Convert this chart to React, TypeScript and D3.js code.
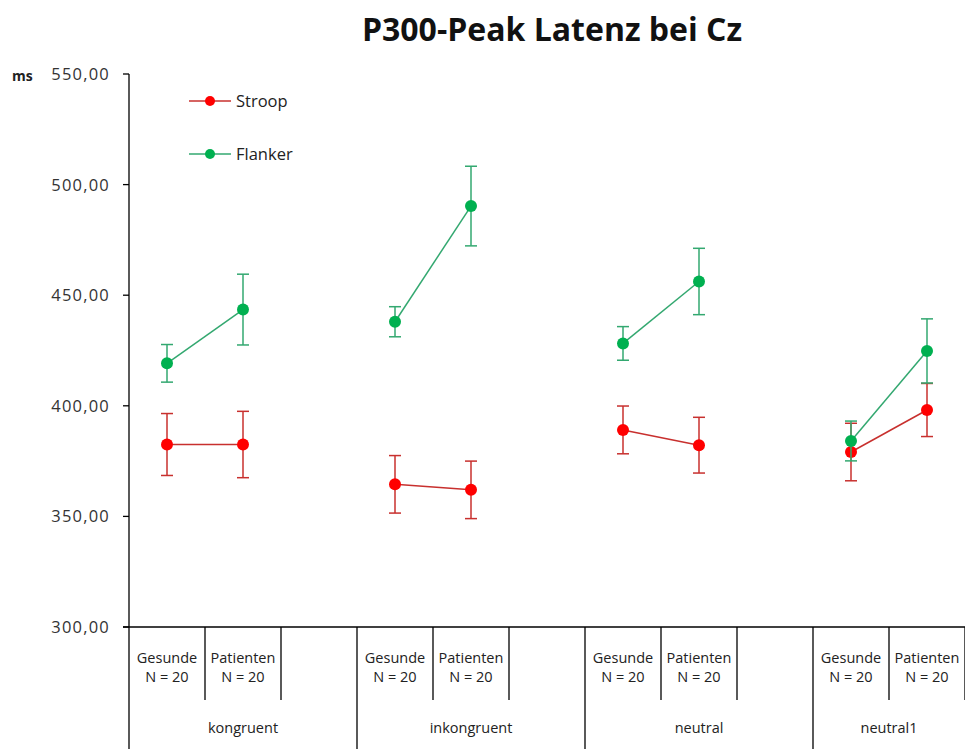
import React from "react";
import * as d3 from "d3";

const groups = ["kongruent", "inkongruent", "neutral", "neutral1"];
const subjects = ["Gesunde", "Patienten"];
const sampleLabel = "N = 20";

// Mean latency (ms) per group × subject, and error bar half-widths
const stroopMean = [382.5, 382.5, 364.5, 362.0, 389.1, 382.2, 379.1, 398.1];
const stroopErr = [14, 15, 13, 13, 10.8, 12.6, 13, 12];
const flankerMean = [419.2, 443.5, 438.0, 490.3, 428.2, 456.2, 384.1, 424.8];
const flankerErr = [8.5, 16, 6.8, 18, 7.6, 15, 9, 14.5];

const yTicks = [300, 350, 400, 450, 500, 550];

const W = 965;
const H = 749;
const axisX = 129;
const slotW = 76;
const y0 = 627;
const y1 = 74;

const series = [
  { name: "Stroop", mean: stroopMean, err: stroopErr, marker: "#ff0000", line: "#c8302e", legendY: 101 },
  { name: "Flanker", mean: flankerMean, err: flankerErr, marker: "#00b050", line: "#33a870", legendY: 154 },
];

export default function App() {
  const y = d3.scaleLinear().domain([300, 550]).range([y0, y1]);
  // 3 slots per group: two subject slots and one empty spacer slot
  const slots = d3.range(groups.length * 3);
  const x = d3.scaleBand<number>().domain(slots).range([axisX, axisX + slots.length * slotW]);
  const pointX = (i: number) => {
    const g = Math.floor(i / 2);
    const s = i % 2;
    return (x(g * 3 + s) as number) + x.bandwidth() / 2;
  };
  const fmt = (v: number) => d3.format(".2f")(v).replace(".", ",");
  const font = "'Open Sans', 'Liberation Sans', sans-serif";

  return (
    <svg width={W} height={H} style={{ position: "absolute", left: 0, top: 0, background: "#fff" }} fontFamily={font}>
      <text x={552} y={41} textAnchor="middle" fontSize={32} fontWeight="bold" fill="#111">
        P300-Peak Latenz bei Cz
      </text>
      <text x={12} y={81} fontSize={14} fontWeight="bold" fill="#222">ms</text>

      {/* y axis */}
      <line x1={axisX} x2={axisX} y1={y1} y2={y0} stroke="#000" strokeWidth={1.3} />
      {yTicks.map((t) => (
        <g key={t}>
          <line x1={axisX - 6} x2={axisX} y1={y(t)} y2={y(t)} stroke="#000" strokeWidth={1.3} />
          <text x={110} y={y(t) + 6} textAnchor="end" fontSize={16.5} letterSpacing={1.2} fill="#333">
            {fmt(t)}
          </text>
        </g>
      ))}

      {/* category table */}
      <line x1={axisX - 6} x2={W} y1={y0} y2={y0} stroke="#000" strokeWidth={1.3} />
      {slots.map((s) => {
        const left = x(s) as number;
        const isGroupStart = s % 3 === 0;
        return (
          <line key={s} x1={left} x2={left} y1={y0} y2={isGroupStart ? H : 700} stroke="#000" strokeWidth={1.3} />
        );
      })}
      {groups.map((g, gi) =>
        subjects.map((sub, si) => {
          const cx = (x(gi * 3 + si) as number) + x.bandwidth() / 2;
          return (
            <g key={g + sub} fontSize={14.5} fill="#222" textAnchor="middle">
              <text x={cx} y={663}>{sub}</text>
              <text x={cx} y={682}>{sampleLabel}</text>
            </g>
          );
        })
      )}
      {groups.map((g, gi) => {
        const left = x(gi * 3) as number;
        const right = Math.min(left + x.bandwidth() * 3, W);
        return (
          <text key={g} x={(left + right) / 2} y={733} fontSize={14.5} fill="#222" textAnchor="middle">
            {g}
          </text>
        );
      })}

      {/* series */}
      {series.map((s) => (
        <g key={s.name}>
          {groups.map((g, gi) => {
            const a = gi * 2;
            const b = a + 1;
            return (
              <line key={g} x1={pointX(a)} x2={pointX(b)} y1={y(s.mean[a])} y2={y(s.mean[b])} stroke={s.line} strokeWidth={1.5} />
            );
          })}
          {s.mean.map((m, i) => {
            const cx = pointX(i);
            const top = y(m + s.err[i]);
            const bot = y(m - s.err[i]);
            return (
              <g key={i}>
                <line x1={cx} x2={cx} y1={top} y2={bot} stroke={s.line} strokeWidth={1.5} />
                <line x1={cx - 6} x2={cx + 6} y1={top} y2={top} stroke={s.line} strokeWidth={1.5} />
                <line x1={cx - 6} x2={cx + 6} y1={bot} y2={bot} stroke={s.line} strokeWidth={1.5} />
                <circle cx={cx} cy={y(m)} r={6} fill={s.marker} />
              </g>
            );
          })}
        </g>
      ))}

      {/* legend */}
      {series.map((s) => (
        <g key={"lg" + s.name}>
          <line x1={189} x2={231} y1={s.legendY} y2={s.legendY} stroke={s.line} strokeWidth={1.5} />
          <circle cx={210} cy={s.legendY} r={5} fill={s.marker} />
          <text x={236} y={s.legendY + 6} fontSize={16.5} fill="#222">{s.name}</text>
        </g>
      ))}
    </svg>
  );
}
